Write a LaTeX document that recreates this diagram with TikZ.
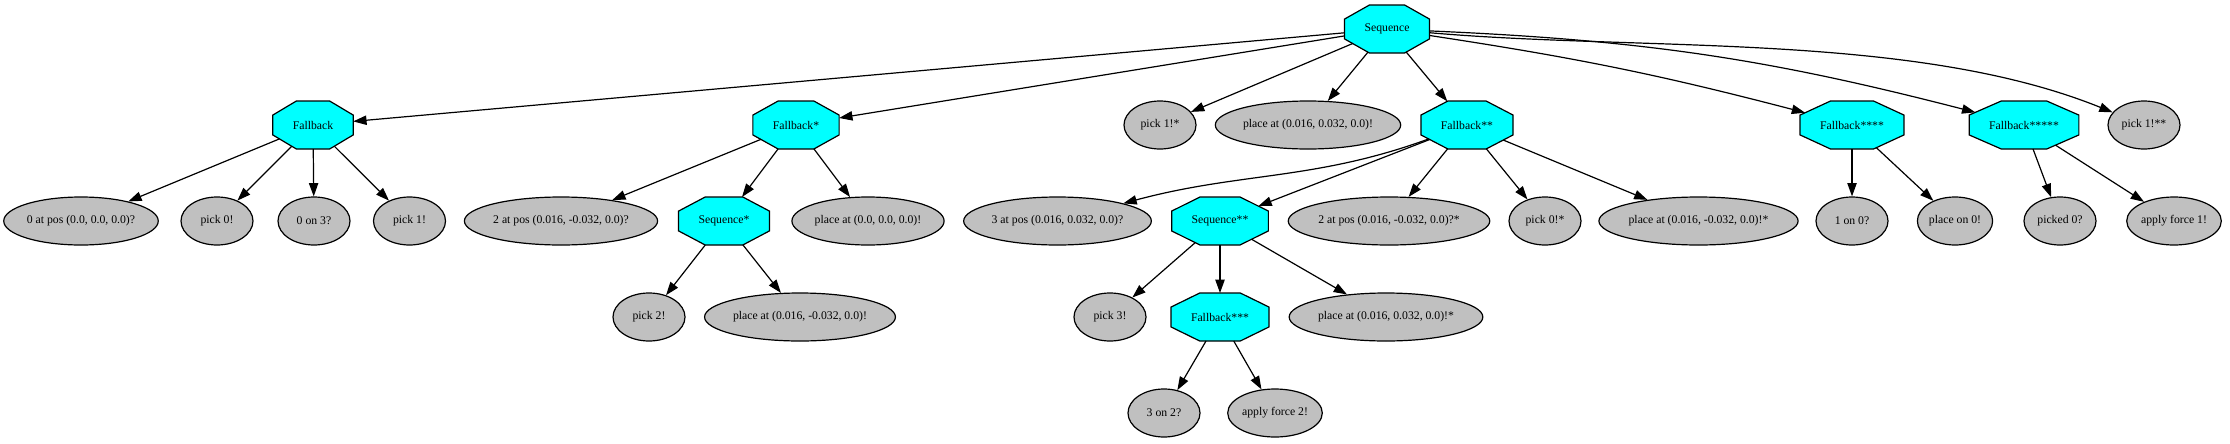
\documentclass[tikz,border=0pt]{standalone}
\usepackage{fontspec}
\setmainfont{Liberation Serif}
\usetikzlibrary{shapes.geometric,arrows.meta}
\definecolor{btcyan}{RGB}{0,255,255}
\definecolor{btgray}{RGB}{192,192,192}

% stretched octagon, like the one of graphviz
\makeatletter
\pgfdeclareshape{btoctagon}{%
  \inheritsavedanchors[from=rectangle]%
  \inheritanchor[from=rectangle]{center}%
  \inheritanchor[from=rectangle]{north}%
  \inheritanchor[from=rectangle]{south}%
  \inheritanchor[from=rectangle]{east}%
  \inheritanchor[from=rectangle]{west}%
  \inheritanchor[from=rectangle]{text}%
  \inheritanchor[from=rectangle]{base}%
  \backgroundpath{%
    \southwest \edef\bt@xa{\the\pgf@x}\edef\bt@ya{\the\pgf@y}%
    \northeast \edef\bt@xb{\the\pgf@x}\edef\bt@yb{\the\pgf@y}%
    \pgfmathsetmacro\bt@cx{0.293*((\bt@xb)-(\bt@xa))}%
    \pgfmathsetmacro\bt@cy{0.293*((\bt@yb)-(\bt@ya))}%
    \pgfpathmoveto{\pgfpoint{\bt@xa+\bt@cx pt}{\bt@ya}}%
    \pgfpathlineto{\pgfpoint{\bt@xb-\bt@cx pt}{\bt@ya}}%
    \pgfpathlineto{\pgfpoint{\bt@xb}{\bt@ya+\bt@cy pt}}%
    \pgfpathlineto{\pgfpoint{\bt@xb}{\bt@yb-\bt@cy pt}}%
    \pgfpathlineto{\pgfpoint{\bt@xb-\bt@cx pt}{\bt@yb}}%
    \pgfpathlineto{\pgfpoint{\bt@xa+\bt@cx pt}{\bt@yb}}%
    \pgfpathlineto{\pgfpoint{\bt@xa}{\bt@yb-\bt@cy pt}}%
    \pgfpathlineto{\pgfpoint{\bt@xa}{\bt@ya+\bt@cy pt}}%
    \pgfpathclose
  }%
  \anchorborder{%
    \edef\bt@dx{\the\pgf@x}\edef\bt@dy{\the\pgf@y}%
    \southwest \edef\bt@xa{\the\pgf@x}\edef\bt@ya{\the\pgf@y}%
    \northeast \edef\bt@xb{\the\pgf@x}\edef\bt@yb{\the\pgf@y}%
    \pgfmathsetmacro\bt@a{((\bt@xb)-(\bt@xa))/2}%
    \pgfmathsetmacro\bt@b{((\bt@yb)-(\bt@ya))/2}%
    \pgfmathsetmacro\bt@s{max(abs(\bt@dx)/\bt@a, abs(\bt@dy)/\bt@b,
      (abs(\bt@dx)/\bt@a+abs(\bt@dy)/\bt@b)/1.414, 0.0001)}%
    \pgfmathsetlength\pgf@x{((\bt@xa)+(\bt@xb))/2+(\bt@dx)/\bt@s}%
    \pgfmathsetlength\pgf@y{((\bt@ya)+(\bt@yb))/2+(\bt@dy)/\bt@s}%
  }%
}
\makeatother

\begin{document}
\begin{tikzpicture}[x=0.75pt, y=-0.75pt,
  every node/.style={font=\fontsize{8.8}{10}\selectfont, draw, line width=0.9pt},
  ctrl/.style={btoctagon, inner xsep=15pt, inner ysep=0pt, outer sep=0pt, minimum height=36pt, fill=btcyan},
  leaf/.style={ellipse, inner xsep=0.4pt, inner ysep=0pt, minimum width=54pt, minimum height=36pt, fill=btgray},
  btlink/.style={line width=0.9pt, -{Triangle[length=10pt,width=7pt]}}]
\useasboundingbox (0,0) rectangle (2230,443);
\node[ctrl] (bt0) at (1387,29) {Sequence};
\node[ctrl] (bt1) at (313,125) {Fallback};
\node[leaf] (bt2) at (81,221) {0 at pos (0.0, 0.0, 0.0)?};
\node[leaf] (bt3) at (217,221) {pick 0!};
\node[leaf] (bt4) at (314,221) {0 on 3?};
\node[leaf] (bt5) at (409.5,221) {pick 1!};
\draw[btlink] (bt1) -- (bt2);
\draw[btlink] (bt1) -- (bt3);
\draw[btlink] (bt1) -- (bt4);
\draw[btlink] (bt1) -- (bt5);
\draw[btlink] (bt0) -- (bt1);
\node[ctrl] (bt6) at (796,125) {Fallback*};
\node[leaf] (bt7) at (561,221) {2 at pos (0.016, -0.032, 0.0)?};
\node[ctrl] (bt8) at (724,221) {Sequence*};
\node[leaf] (bt9) at (649,317) {pick 2!};
\node[leaf] (bt10) at (800,317) {place at (0.016, -0.032, 0.0)!};
\draw[btlink] (bt8) -- (bt9);
\draw[btlink] (bt8) -- (bt10);
\node[leaf] (bt11) at (868,221) {place at (0.0, 0.0, 0.0)!};
\draw[btlink] (bt6) -- (bt7);
\draw[btlink] (bt6) -- (bt8);
\draw[btlink] (bt6) -- (bt11);
\draw[btlink] (bt0) -- (bt6);
\node[leaf] (bt12) at (1160,125) {pick 1!*};
\node[leaf] (bt13) at (1308,125) {place at (0.016, 0.032, 0.0)!};
\draw[btlink] (bt0) -- (bt12);
\draw[btlink] (bt0) -- (bt13);
\node[ctrl] (bt14) at (1467,125) {Fallback**};
\node[leaf] (bt15) at (1057.5,221) {3 at pos (0.016, 0.032, 0.0)?};
\node[ctrl] (bt16) at (1220,221) {Sequence**};
\node[leaf] (bt17) at (1110,317) {pick 3!};
\node[ctrl] (bt18) at (1220,317) {Fallback***};
\node[leaf] (bt19) at (1164,413) {3 on 2?};
\node[leaf] (bt20) at (1275,413) {apply force 2!};
\draw[btlink] (bt18) -- (bt19);
\draw[btlink] (bt18) -- (bt20);
\node[leaf] (bt21) at (1386,317) {place at (0.016, 0.032, 0.0)!*};
\draw[btlink] (bt16) -- (bt17);
\draw[btlink] (bt16) -- (bt18);
\draw[btlink] (bt16) -- (bt21);
\node[leaf] (bt22) at (1389,221) {2 at pos (0.016, -0.032, 0.0)?*};
\node[leaf] (bt23) at (1545,221) {pick 0!*};
\node[leaf] (bt24) at (1698.5,221) {place at (0.016, -0.032, 0.0)!*};
\draw[btlink] (bt14) to[out=200, in=15] (bt15);
\draw[btlink] (bt14) -- (bt16);
\draw[btlink] (bt14) -- (bt22);
\draw[btlink] (bt14) -- (bt23);
\draw[btlink] (bt14) -- (bt24);
\draw[btlink] (bt0) -- (bt14);
\node[ctrl] (bt25) at (1852,125) {Fallback****};
\node[leaf] (bt26) at (1852,221) {1 on 0?};
\node[leaf] (bt27) at (1955,221) {place on 0!};
\draw[btlink] (bt25) -- (bt26);
\draw[btlink] (bt25) -- (bt27);
\draw[btlink] (bt0) to[bend left=3] (bt25);
\node[ctrl] (bt28) at (2024,125) {Fallback*****};
\node[leaf] (bt29) at (2060,221) {picked 0?};
\node[leaf] (bt30) at (2174,221) {apply force 1!};
\draw[btlink] (bt28) -- (bt29);
\draw[btlink] (bt28) -- (bt30);
\draw[btlink] (bt0) to[bend left=6] (bt28);
\node[leaf] (bt31) at (2144,125) {pick 1!**};
\draw[btlink] (bt0) to[out=-5, in=158, looseness=0.8] (bt31);
\end{tikzpicture}
\end{document}
